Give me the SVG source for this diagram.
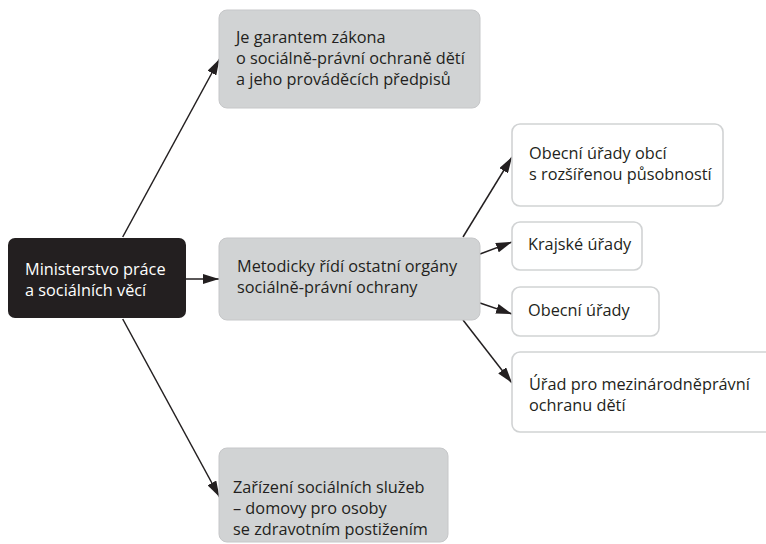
<svg xmlns="http://www.w3.org/2000/svg" width="766" height="544" viewBox="0 0 766 544">
<style>
.g{fill:#d1d3d4;stroke:#c6c7c9;stroke-width:1}
.w{fill:#ffffff;stroke:#d1d3d4;stroke-width:1.6}
.b{fill:#231f20}
.t{font-family:"Open Sans","Noto Sans","DejaVu Sans",sans-serif;font-size:16.3px;fill:#231f20}
.tw{fill:#ffffff}
.c{stroke:#231f20;stroke-width:1.5;fill:none;marker-end:url(#ah)}
</style>
<defs>
<marker id="ah" markerUnits="userSpaceOnUse" markerWidth="17" markerHeight="10" refX="16" refY="5" orient="auto" viewBox="0 0 17 10">
<path d="M0,0 L16,5 L0,10 z" fill="#231f20"/>
</marker>
</defs>
<rect width="766" height="544" fill="#ffffff"/>
<g id="connectors">
<line class="c" x1="122.7" y1="237" x2="219.5" y2="59"/>
<line class="c" x1="186" y1="279" x2="219" y2="279"/>
<line class="c" x1="122.7" y1="319" x2="219.5" y2="497"/>
<line class="c" x1="463" y1="237" x2="512" y2="157"/>
<line class="c" x1="480" y1="254" x2="512" y2="242"/>
<line class="c" x1="480" y1="303" x2="512" y2="314"/>
<line class="c" x1="463" y1="320" x2="512" y2="383"/>
</g>
<g id="ministerstvo">
<rect class="b" x="8" y="238" width="178" height="80" rx="7"/>
<text class="t tw" x="25" y="275">Ministerstvo práce</text>
<text class="t tw" x="25" y="296">a sociálních věcí</text>
</g>
<g id="garant">
<rect class="g" x="219" y="10" width="261" height="98" rx="8"/>
<text class="t" x="236" y="43">Je garantem zákona</text>
<text class="t" x="236" y="64">o sociálně-právní ochraně dětí</text>
<text class="t" x="236" y="85">a jeho prováděcích předpisů</text>
</g>
<g id="metodicky">
<rect class="g" x="219" y="238" width="261" height="82" rx="8"/>
<text class="t" x="237" y="272">Metodicky řídí ostatní orgány</text>
<text class="t" x="237" y="293">sociálně-právní ochrany</text>
</g>
<g id="zarizeni">
<rect class="g" x="219" y="448" width="229" height="94" rx="8"/>
<text class="t" x="233" y="493">Zařízení sociálních služeb</text>
<text class="t" x="233" y="514">– domovy pro osoby</text>
<text class="t" x="233" y="535">se zdravotním postižením</text>
</g>
<g id="orp">
<rect class="w" x="512" y="124" width="211" height="82" rx="8"/>
<text class="t" x="529" y="159">Obecní úřady obcí</text>
<text class="t" x="529" y="180">s rozšířenou působností</text>
</g>
<g id="krajske">
<rect class="w" x="512" y="222" width="130" height="48" rx="8"/>
<text class="t" x="528" y="250">Krajské úřady</text>
</g>
<g id="obecni">
<rect class="w" x="512" y="287" width="147" height="49" rx="8"/>
<text class="t" x="528" y="316">Obecní úřady</text>
</g>
<g id="urad">
<rect class="w" x="512" y="352" width="270" height="80" rx="8"/>
<text class="t" x="529" y="390">Úřad pro mezinárodněprávní</text>
<text class="t" x="529" y="411">ochranu dětí</text>
</g>
</svg>
